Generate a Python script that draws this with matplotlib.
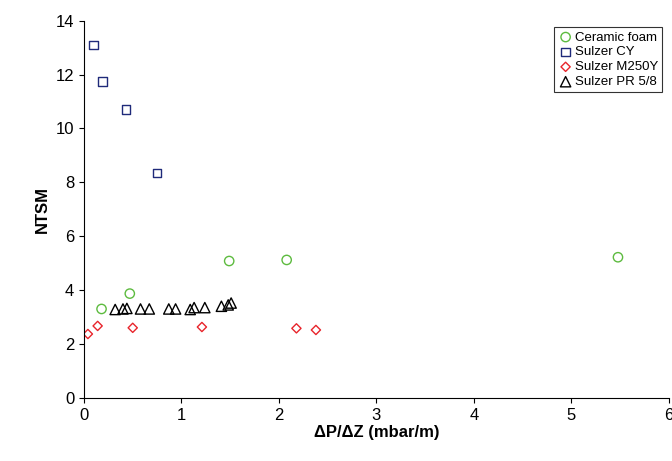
import matplotlib
matplotlib.use("Agg")
import matplotlib.pyplot as plt

foam_x = [0.18, 0.47, 1.49, 2.08, 5.48]
foam_y = [3.3, 3.87, 5.08, 5.12, 5.22]
cy_x = [0.10, 0.19, 0.43, 0.75]
cy_y = [13.1, 11.75, 10.7, 8.35]
m250_x = [0.04, 0.14, 0.50, 1.21, 2.18, 2.38]
m250_y = [2.37, 2.67, 2.6, 2.63, 2.58, 2.52]
pr_x = [0.32, 0.40, 0.44, 0.58, 0.67, 0.87, 0.94, 1.09, 1.13, 1.24, 1.41, 1.48, 1.51]
pr_y = [3.28, 3.3, 3.32, 3.3, 3.3, 3.3, 3.3, 3.28, 3.35, 3.35, 3.4, 3.45, 3.52]

plt.rcParams['font.family'] = ['Liberation Sans', 'DejaVu Sans']
fig, ax = plt.subplots(figsize=(6.72, 4.61), dpi=100)
fig.subplots_adjust(left=0.125, right=0.995, top=0.955, bottom=0.137)

ax.scatter(foam_x, foam_y, marker='o', s=45, facecolors='none', edgecolors='#5dbb3f', linewidths=1, label='Ceramic foam')
ax.scatter(cy_x, cy_y, marker='s', s=40, facecolors='none', edgecolors='#1f2a7a', linewidths=1, label='Sulzer CY')
ax.scatter(m250_x, m250_y, marker='D', s=22, facecolors='none', edgecolors='#e8242b', linewidths=1, label='Sulzer M250Y')
ax.scatter(pr_x, pr_y, marker='^', s=55, facecolors='none', edgecolors='black', linewidths=1, label='Sulzer PR 5/8')

ax.set_xlim(0, 6)
ax.set_ylim(0, 14)
ax.set_xticks(range(0, 7))
ax.set_yticks(range(0, 15, 2))
ax.tick_params(labelsize=12, direction='out')
for s in ['top', 'right']:
    ax.spines[s].set_visible(False)
ax.set_xlabel('\u0394P/\u0394Z (mbar/m)', fontsize=12, fontweight='bold', labelpad=2)
ax.set_ylabel('NTSM', fontsize=12, fontweight='bold')
leg = ax.legend(loc='upper right', fontsize=9.5, frameon=True, fancybox=False, edgecolor='black',
                handletextpad=0.1, borderpad=0.3, labelspacing=0.2, handlelength=1.2)
leg.get_frame().set_linewidth(0.8)

fig.savefig('out.png')
